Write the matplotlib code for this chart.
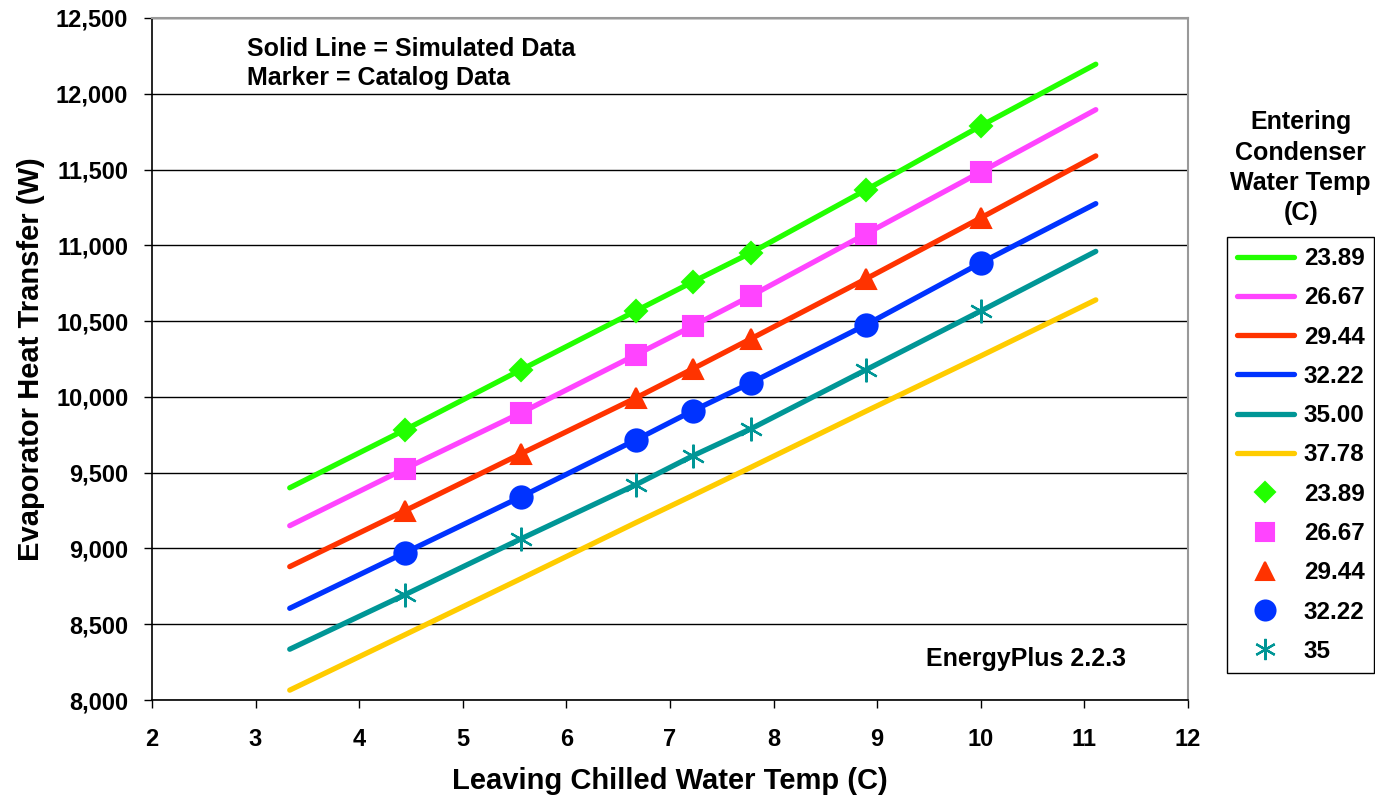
import matplotlib.pyplot as plt
from matplotlib.ticker import FuncFormatter

plt.rcParams["font.family"] = "Liberation Sans"
plt.rcParams["font.weight"] = "bold"

# 데이터 (그림에서 읽은 추정값)
x_line = [3.33, 4.44, 5.56, 6.67, 7.22, 7.78, 8.89, 10.0, 11.11]
x_mark = [4.44, 5.56, 6.67, 7.22, 7.78, 8.89, 10.0]

temps_line = ["23.89", "26.67", "29.44", "32.22", "35.00", "37.78"]
temps_mark = ["23.89", "26.67", "29.44", "32.22", "35"]

sim_2389 = [9400, 9782, 10178, 10567, 10759, 10950, 11365, 11788, 12195]
sim_2667 = [9150, 9525, 9894, 10277, 10468, 10666, 11075, 11484, 11895]
sim_2944 = [8880, 9248, 9624, 9993, 10185, 10383, 10778, 11181, 11590]
sim_3222 = [8605, 8971, 9340, 9716, 9908, 10092, 10475, 10884, 11275]
sim_3500 = [8335, 8694, 9063, 9420, 9611, 9789, 10178, 10567, 10960]
sim_3778 = [8065, 8430, 8800, 9170, 9350, 9535, 9905, 10270, 10640]

cat_2389 = [9782, 10178, 10567, 10759, 10950, 11365, 11788]
cat_2667 = [9525, 9894, 10277, 10468, 10666, 11075, 11484]
cat_2944 = [9248, 9624, 9993, 10185, 10383, 10778, 11181]
cat_3222 = [8971, 9340, 9716, 9908, 10092, 10475, 10884]
cat_3500 = [8694, 9063, 9420, 9611, 9789, 10178, 10567]

sims = [sim_2389, sim_2667, sim_2944, sim_3222, sim_3500, sim_3778]
cats = [cat_2389, cat_2667, cat_2944, cat_3222, cat_3500]

line_colors = ["#22FF00", "#FF44FF", "#FF3300", "#0033FF", "#009696", "#FFCC00"]
markers = ["D", "s", "^", "o", (6, 2, 0)]
msizes = [11, 15, 15, 16, 17]

fig = plt.figure(figsize=(13.75, 7.99), dpi=100)
ax = fig.add_axes([0.1105, 0.1239, 0.7535, 0.8536])

for y, c, lab in zip(sims, line_colors, temps_line):
    ax.plot(x_line, y, color=c, linewidth=3.8, solid_capstyle="round", label=lab, zorder=3)

for y, c, m, ms, lab in zip(cats, line_colors, markers, msizes, temps_mark):
    ax.plot(x_mark, y, linestyle="none", marker=m, markersize=ms, color=c,
            markeredgewidth=1.5 if m != (6, 2, 0) else 1.6, label=lab, zorder=4)

ax.set_xlim(2, 12)
ax.set_ylim(8000, 12500)
ax.set_xticks(range(2, 13))
ax.set_yticks(range(8000, 12501, 500))
ax.yaxis.set_major_formatter(FuncFormatter(lambda v, p: f"{int(v):,}"))
ax.tick_params(axis="both", labelsize=17, length=6, width=1, color="black")
ax.tick_params(axis="x", pad=14)
ax.tick_params(axis="y", pad=11)
ax.grid(axis="y", color="black", linewidth=1)
ax.set_axisbelow(True)

for s in ["top", "right"]:
    ax.spines[s].set_color("#999999")
    ax.spines[s].set_linewidth(1.5)
for s in ["left", "bottom"]:
    ax.spines[s].set_color("black")
    ax.spines[s].set_linewidth(1.2)

ax.set_xlabel("Leaving Chilled Water Temp (C)", fontsize=21, fontweight="bold", labelpad=12)
ax.set_ylabel("Evaporator Heat Transfer (W)", fontsize=21, fontweight="bold", labelpad=8)

ax.text(2.92, 12375, "Solid Line = Simulated Data\nMarker = Catalog Data", fontsize=18,
        fontweight="bold", va="top", ha="left", linespacing=1.28)
ax.text(10.44, 8270, "EnergyPlus 2.2.3", fontsize=18, fontweight="bold", ha="center", va="center")

fig.text(0.946, 0.862, "Entering\nCondenser\nWater Temp\n(C)", fontsize=18, fontweight="bold",
         ha="center", va="top", linespacing=1.33)

leg = fig.legend(loc="upper left", bbox_to_anchor=(0.8925, 0.703), fontsize=17.5,
                 frameon=True, fancybox=False, edgecolor="black", framealpha=1,
                 labelspacing=0.67, handlelength=2.35, handletextpad=0.4,
                 borderpad=0.4, borderaxespad=0, markerscale=0.9)
leg.get_frame().set_linewidth(1.0)

fig.savefig("out.png", dpi=100)
